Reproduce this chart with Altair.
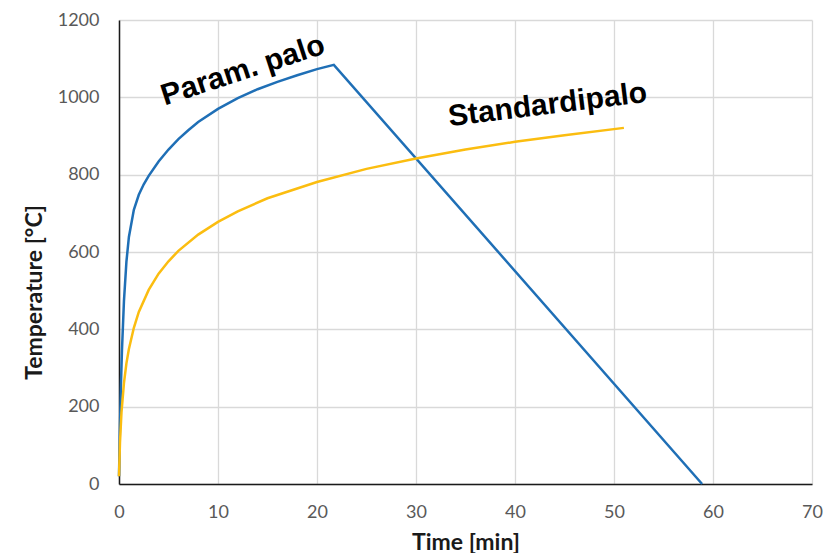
import altair as alt
import pandas as pd

# Parametric fire curve
param_time = [0, 0.1, 0.2, 0.3, 0.5, 0.75, 1, 1.5, 2, 2.5, 3, 4, 5, 6, 7, 8,
              10, 12, 14, 16, 18, 20, 21.7, 58.9]
param_temp = [20, 152, 259, 346, 473, 575, 639, 709, 748, 775, 797, 834, 865,
              892, 915, 936, 970, 998, 1021, 1040, 1057, 1073, 1084, 0]

# Standard fire curve
std_time = [0, 0.1, 0.25, 0.5, 0.75, 1, 1.5, 2, 3, 4, 5, 6, 8, 10, 12, 15,
            20, 25, 30, 35, 40, 45, 51]
std_temp = [20, 108, 185, 261, 312, 349, 404, 445, 502, 544, 576, 603, 645,
            678, 705, 739, 781, 815, 842, 865, 885, 902, 921]

series_names = ["Param. palo", "Standardipalo"]
series_colors = ["#1f6fb6", "#fbbd10"]

label_text = ["Param. palo", "Standardipalo"]
label_time = [12.8, 43.4]
label_temp = [1047, 957]

df = pd.DataFrame({
    "time": param_time + std_time,
    "temp": param_temp + std_temp,
    "series": [series_names[0]] * len(param_time) + [series_names[1]] * len(std_time),
})

x_enc = alt.X("time:Q",
              scale=alt.Scale(domain=[0, 70], nice=False, zero=False),
              axis=alt.Axis(values=list(range(0, 71, 10)), title="Time [min]",
                            format="d", labelFlush=False,
                            titleX=346.5, titleY=58, titleBaseline="middle",
                            labelPadding=19))
y_enc = alt.Y("temp:Q",
              scale=alt.Scale(domain=[0, 1200], nice=False),
              axis=alt.Axis(values=list(range(0, 1201, 200)), title="Temperature [°C]",
                            format="d", labelFlush=False,
                            titleX=-85, titleY=272, titleAngle=270,
                            titleAlign="center", titleBaseline="middle",
                            labelPadding=20))

lines = alt.Chart(df).mark_line(strokeWidth=2.5).encode(
    x=x_enc,
    y=y_enc,
    color=alt.Color("series:N",
                    scale=alt.Scale(domain=series_names, range=series_colors),
                    legend=None),
)

lab1 = alt.Chart(pd.DataFrame({"time": [label_time[0]], "temp": [label_temp[0]],
                               "label": [label_text[0]]})).mark_text(
    angle=342, font="Liberation Sans", fontWeight="bold", fontSize=30,
    align="center", baseline="alphabetic", color="black"
).encode(x="time:Q", y="temp:Q", text="label:N")

lab2 = alt.Chart(pd.DataFrame({"time": [label_time[1]], "temp": [label_temp[1]],
                               "label": [label_text[1]]})).mark_text(
    angle=353, font="Liberation Sans", fontWeight="bold", fontSize=30,
    align="center", baseline="alphabetic", color="black"
).encode(x="time:Q", y="temp:Q", text="label:N")

chart = alt.layer(lines, lab1, lab2).properties(
    width=693, height=464,
    autosize=alt.AutoSizeParams(type="none"),
    padding={"left": 119, "top": 20, "right": 11, "bottom": 69},
    background="white",
).configure_view(stroke=None).configure_axis(
    labelFont="Lato", labelFontSize=18, labelColor="#595959",
    titleFont="Lato", titleFontSize=23, titleFontWeight="bold", titleColor="#1a1a1a",
    ticks=False, domainColor="#1a1a1a", domainWidth=1.5,
    gridColor="#d9d9d9", gridWidth=1.3,
)

chart.save("out.html", embed_options={"renderer": "svg", "actions": False})
